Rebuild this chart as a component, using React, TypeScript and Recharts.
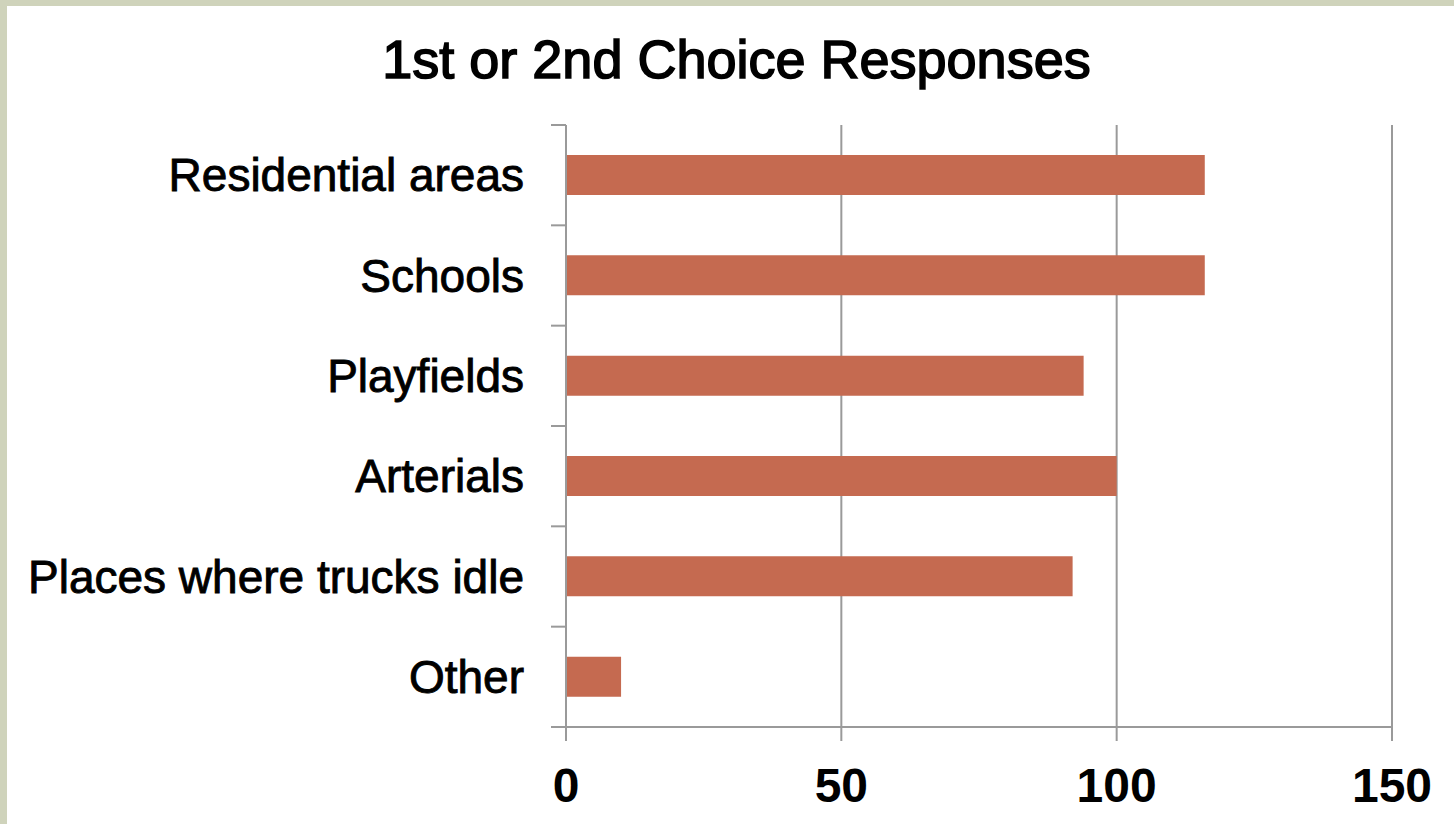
import { BarChart, Bar, XAxis, YAxis, CartesianGrid, Text } from "recharts";

const categories = [
  "Residential areas",
  "Schools",
  "Playfields",
  "Arterials",
  "Places where trucks idle",
  "Other",
];
const responses = [116, 116, 94, 100, 92, 10];
const xTicks = [0, 50, 100, 150];

const data = categories.map((name, i) => ({ name, value: responses[i] }));

const grey = "#9a9a9a";
const font = "'Liberation Sans', Arial, sans-serif";
const labelGap = 42;
const edgeTick = 15;

// category label plus the tick marks on the band boundaries
const CategoryTick = (props: any) => {
  const { x, y, payload, index, height, visibleTicksCount } = props;
  const band = height / visibleTicksCount;
  const ax = x + labelGap;
  const isLast = index === visibleTicksCount - 1;
  return (
    <g>
      <line x1={ax - edgeTick} x2={ax} y1={y - band / 2} y2={y - band / 2} stroke={grey} strokeWidth={2} />
      {isLast && (
        <line x1={ax - edgeTick} x2={ax} y1={y + band / 2} y2={y + band / 2} stroke={grey} strokeWidth={2} />
      )}
      <Text
        x={x}
        y={y}
        textAnchor="end"
        verticalAnchor="middle"
        fill="#000"
        stroke="#000"
        strokeWidth={0.9}
        fontSize={46}
        fontFamily={font}
      >
        {payload.value}
      </Text>
    </g>
  );
};

export default function App() {
  return (
    <div
      style={{
        position: "absolute",
        left: 0,
        top: 0,
        width: 1454,
        height: 824,
        background: "#fff",
        boxSizing: "border-box",
        borderTop: "6px solid #cfd3bb",
        borderLeft: "7px solid #cfd3bb",
      }}
    >
      <div
        style={{
          position: "absolute",
          left: 236.5 - 7,
          top: 32 - 6,
          width: 1000,
          textAlign: "center",
          fontFamily: font,
          fontSize: 54,
          lineHeight: "54px",
          color: "#000",
          WebkitTextStroke: "1.6px #000",
        }}
      >
        1st or 2nd Choice Responses
      </div>
      <div style={{ position: "absolute", left: -7, top: -6 }}>
        <BarChart
          layout="vertical"
          width={1454}
          height={824}
          data={data}
          margin={{ top: 125, right: 62, bottom: 37, left: 0 }}
        >
          <CartesianGrid horizontal={false} stroke={grey} strokeWidth={2} />
          <XAxis
            type="number"
            domain={[0, 150]}
            ticks={xTicks}
            interval={0}
            height={60}
            stroke={grey}
            axisLine={{ stroke: grey, strokeWidth: 2 }}
            tickLine={{ stroke: grey, strokeWidth: 2 }}
            tickSize={14}
            tickMargin={27}
            tick={{ fill: "#000", fontSize: 48, fontWeight: "bold", fontFamily: font }}
          />
          <YAxis
            type="category"
            dataKey="name"
            width={566}
            interval={0}
            stroke={grey}
            axisLine={{ stroke: grey, strokeWidth: 2 }}
            tickLine={false}
            tickSize={0}
            tickMargin={labelGap}
            tick={<CategoryTick />}
          />
          <Bar dataKey="value" fill="#c56a50" barSize={40} isAnimationActive={false} />
        </BarChart>
      </div>
    </div>
  );
}
